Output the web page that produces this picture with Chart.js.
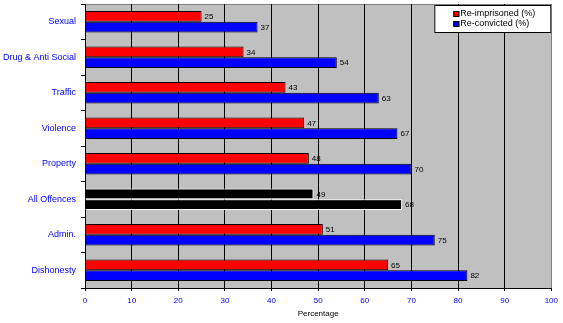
<!DOCTYPE html>
<html>
<head>
<meta charset="utf-8">
<script src="https://cdn.jsdelivr.net/npm/chart.js@4.4.1/dist/chart.umd.min.js"></script>
<style>
  html, body { margin: 0; padding: 0; background: #fff; }
  canvas { display: block; }
</style>
</head>
<body>
<canvas id="chart" width="563" height="323"></canvas>
<script>
const categories = ['Sexual', 'Drug & Anti Social', 'Traffic', 'Violence', 'Property', 'All Offences', 'Admin.', 'Dishonesty']
const reImprisoned = [25, 34, 43, 47, 48, 49, 51, 65]
const reConvicted = [37, 54, 63, 67, 70, 68, 75, 82]
const xTicks = [0, 10, 20, 30, 40, 50, 60, 70, 80, 90, 100]

const FONT = 'Arial, "Liberation Sans", sans-serif'
const highlight = 'All Offences'

// the "All Offences" row is drawn in black for both series
const fillFor = (base) => categories.map(c => c === highlight ? '#000000' : base)
const edgeFor = () => categories.map(c => c === highlight ? '#ffffff' : '#000000')

const plotBackground = {
  id: 'plotBackground',
  beforeDraw: (chart) => {
    const { ctx, chartArea } = chart
    ctx.save()
    ctx.fillStyle = '#c0c0c0'
    ctx.fillRect(chartArea.left, chartArea.top, chartArea.right - chartArea.left, chartArea.bottom - chartArea.top)
    ctx.strokeStyle = '#808080'
    ctx.lineWidth = 1
    ctx.beginPath()
    ctx.moveTo(chartArea.left, chartArea.top + 0.5)
    ctx.lineTo(chartArea.right, chartArea.top + 0.5)
    ctx.stroke()
    ctx.restore()
  }
}

const valueLabels = {
  id: 'valueLabels',
  afterDatasetsDraw: (chart) => {
    const { ctx } = chart
    ctx.save()
    ctx.font = '8px ' + FONT
    ctx.fillStyle = '#000'
    ctx.textAlign = 'left'
    ctx.textBaseline = 'middle'
    chart.data.datasets.forEach((dataset, i) => {
      chart.getDatasetMeta(i).data.forEach((bar, j) => {
        ctx.fillText(String(dataset.data[j]), bar.x + 3, bar.y + 0.5)
      })
    })
    ctx.restore()
  }
}

const boxLegend = {
  id: 'boxLegend',
  afterDraw: (chart) => {
    const { ctx, chartArea } = chart
    const w = 117, h = 28
    const x = chartArea.right - w, y = chartArea.top + 1
    ctx.save()
    ctx.fillStyle = '#fff'
    ctx.fillRect(x, y, w, h)
    ctx.strokeStyle = '#000'
    ctx.lineWidth = 1
    ctx.strokeRect(x + 0.5, y + 0.5, w - 1, h - 1)
    ctx.font = '9px ' + FONT
    ctx.textBaseline = 'middle'
    chart.data.datasets.forEach((dataset, i) => {
      const cy = y + 9 + i * 10
      ctx.fillStyle = dataset.swatch
      ctx.fillRect(x + 19, cy - 3, 6, 6)
      ctx.strokeRect(x + 19.5, cy - 2.5, 5, 5)
      ctx.fillStyle = '#000'
      ctx.fillText(dataset.label, x + 26, cy)
    })
    ctx.restore()
  }
}

new Chart(document.getElementById('chart').getContext('2d'), {
  type: 'bar',
  data: {
    labels: categories,
    datasets: [
      {
        label: 'Re-imprisoned (%)',
        data: reImprisoned,
        swatch: '#ff0000',
        backgroundColor: fillFor('#ff0000'),
        borderColor: edgeFor(),
        borderWidth: 1
      },
      {
        label: 'Re-convicted (%)',
        data: reConvicted,
        swatch: '#0000ff',
        backgroundColor: fillFor('#0000ff'),
        borderColor: edgeFor(),
        borderWidth: 1
      }
    ]
  },
  options: {
    indexAxis: 'y',
    responsive: false,
    animation: false,
    categoryPercentage: 0.6,
    barPercentage: 1,
    layout: { padding: { top: 4, right: 7, left: 0, bottom: 0 } },
    plugins: {
      legend: { display: false },
      tooltip: { enabled: false }
    },
    scales: {
      x: {
        min: 0,
        max: 100,
        afterBuildTicks: (axis) => { axis.ticks = xTicks.map(v => ({ value: v })) },
        afterFit: (axis) => { axis.height = 35 },
        grid: {
          color: (c) => c.tick && c.tick.value === 100 ? '#808080' : '#000',
          tickColor: '#000',
          tickLength: 3
        },
        border: { color: '#000' },
        ticks: { color: '#0000ff', font: { family: FONT, size: 8 }, padding: 5, maxRotation: 0 },
        title: { display: true, text: 'Percentage', color: '#000', font: { family: FONT, size: 8 }, padding: { top: 3, bottom: 4 } }
      },
      y: {
        afterFit: (axis) => {
          axis.width = 85
          axis.paddingTop = 0
          axis.paddingBottom = 0
        },
        grid: { offset: true, drawOnChartArea: false, color: '#000', tickLength: 4 },
        border: { color: '#000' },
        ticks: { color: '#0000ff', font: { family: FONT, size: 9 }, padding: 5 }
      }
    }
  },
  plugins: [plotBackground, valueLabels, boxLegend]
})
</script>
</body>
</html>
